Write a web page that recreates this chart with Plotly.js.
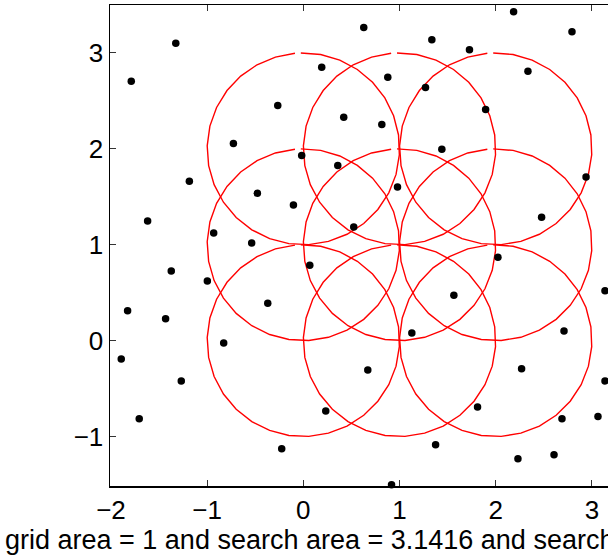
<!DOCTYPE html>
<html>
<head>
<meta charset="utf-8">
<script src="https://cdn.plot.ly/plotly-3.0.1.min.js"></script>
<style>
html,body{margin:0;padding:0;overflow:hidden;background:#fff;}
#chart{width:660px;height:556px;}
</style>
</head>
<body>
<div id="chart"></div>
<script>
// sample points
const ptsX = [-1.326, -1.789, 0.191, -0.266, 0.420, 0.628, 2.186, 2.793, 1.336, 1.727, 2.335, 0.878, 1.270, 1.895, 0.816, -0.727, -0.017, 0.358, -1.185, -0.478, -0.103, -1.619, 0.524, -0.932, -0.537, 1.440, 0.979, 2.939, 2.477, 0.067, -1.373, -0.998, -0.370, -1.827, -1.432, -0.828, -1.893, 2.023, 3.136, 1.565, 1.128, 2.710, 0.670, 2.269, -1.269, -1.706, 0.233, -0.225, 3.136, 1.811, 2.689, 3.063, 1.375, 2.231, 2.606, 0.917];
const ptsY = [3.101, 2.705, 2.850, 2.452, 2.330, 3.266, 3.430, 3.222, 3.138, 3.034, 2.809, 2.746, 2.639, 2.410, 2.254, 2.056, 1.931, 1.827, 1.661, 1.536, 1.414, 1.248, 1.185, 1.123, 1.019, 1.997, 1.602, 1.706, 1.286, 0.787, 0.727, 0.623, 0.391, 0.311, 0.228, -0.025, -0.191, 0.870, 0.519, 0.474, 0.079, 0.100, -0.306, -0.292, -0.420, -0.816, -0.733, -1.128, -0.420, -0.691, -0.816, -0.792, -1.086, -1.232, -1.190, -1.503];
// search circles (grid centers) and radius
const centerX = [0, 1, 2, 0, 1, 2, 0, 1, 2];
const centerY = [0, 0, 0, 1, 1, 1, 2, 2, 2];
const searchRadius = 1;
// tick labels
const xTicks = [-2, -1, 0, 1, 2, 3];
const yTicks = [-1, 0, 1, 2, 3];
const labelText = "grid area = 1 and search area = 3.1416 and search";

const traces = [];
const nSeg = 30;
const startDeg = 95, endDeg = 451.5;
for (let i = 0; i < centerX.length; i++) {
  const xs = [], ys = [];
  for (let k = 0; k <= nSeg; k++) {
    const a = (startDeg + (endDeg - startDeg) * k / nSeg) * Math.PI / 180;
    xs.push(centerX[i] + searchRadius * Math.cos(a));
    ys.push(centerY[i] + searchRadius * Math.sin(a));
  }
  traces.push({x: xs, y: ys, type: 'scatter', mode: 'lines',
    line: {color: '#ff0000', width: 1.4}, hoverinfo: 'skip', showlegend: false});
}
traces.push({x: ptsX, y: ptsY, type: 'scatter', mode: 'markers',
  marker: {color: '#000', size: 7.5}, cliponaxis: false, showlegend: false});

const axisCommon = {
  showline: true, linecolor: '#000', linewidth: 1.5, mirror: 'ticks',
  ticks: 'inside', ticklen: 6, tickcolor: '#333', tickwidth: 1,
  showgrid: false, zeroline: false,
  tickfont: {family: 'Liberation Sans, Arial, sans-serif', size: 26, color: '#000'}
};

const layout = {
  width: 660, height: 556,
  margin: {l: 110, r: 20, t: 5, b: 70},
  paper_bgcolor: '#fff', plot_bgcolor: '#fff',
  xaxis: Object.assign({}, axisCommon, {range: [-2.01, 3.5], tickvals: xTicks}),
  yaxis: Object.assign({}, axisCommon, {range: [-1.516, 3.5], tickvals: yTicks}),
  annotations: [{
    text: labelText, xref: 'paper', yref: 'paper',
    x: (3 - 110) / 530, y: (486 - 540) / 481, xanchor: 'left', yanchor: 'middle',
    showarrow: false,
    font: {family: 'Liberation Sans, Arial, sans-serif', size: 27, color: '#000'}
  }]
};

Plotly.newPlot('chart', traces, layout, {displayModeBar: false, staticPlot: true});
</script>
</body>
</html>
